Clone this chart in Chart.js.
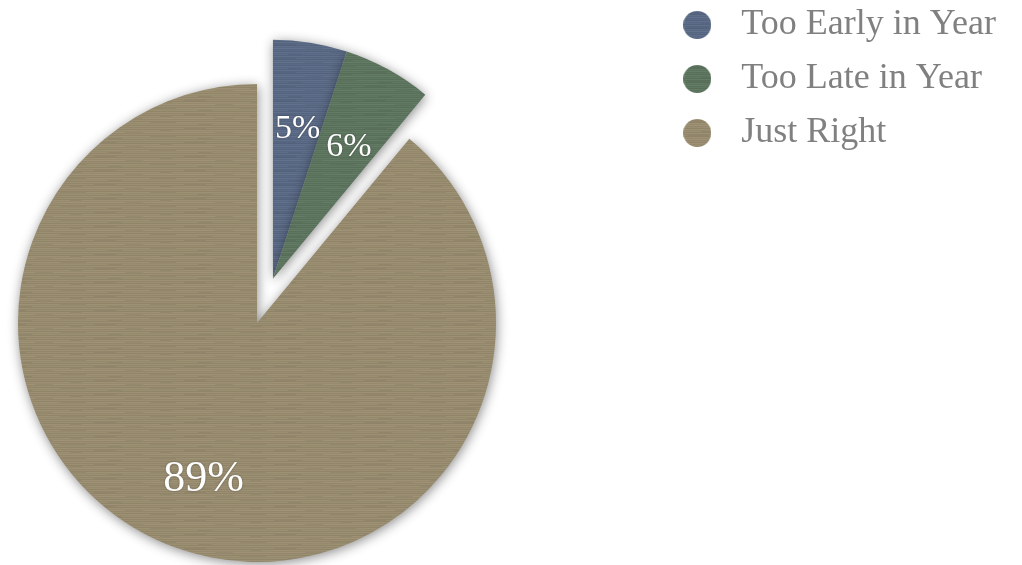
<!DOCTYPE html>
<html>
<head>
<meta charset="utf-8">
<script src="https://cdn.jsdelivr.net/npm/chart.js@4"></script>
<style>
  html, body { margin: 0; padding: 0; background: #fff; }
  #wrap { width: 1022px; height: 565px; position: relative; }
</style>
</head>
<body>
<div id="wrap"><canvas id="pie-canvas"></canvas></div>
<script>
// data
const categories = ['Too Early in Year', 'Too Late in Year', 'Just Right'];
const shares = [5, 6, 89];
const sliceColors = ['#5a6a86', '#5d765f', '#9a8d70'];
const explodedSlices = [0, 1];

// layout of the pie (center / radius in px) and look
const PIE_CX = 257, PIE_CY = 323, PIE_R = 239;
const EXPLODE_OFFSET = 47;
const LABEL_POS = 0.66;
const labelSizes = [34, 34, 44];
const LEGEND_DOT = 28;
const SERIF = "'Liberation Serif', 'DejaVu Serif', serif";

// paper-ish striped texture
function paperTexture(hex) {
    const c = document.createElement('canvas');
    c.width = 90; c.height = 14;
    const g = c.getContext('2d');
    g.fillStyle = hex;
    g.fillRect(0, 0, c.width, c.height);
    const shades = [0.04, -0.05, 0.02, -0.07, 0.03, -0.02, 0.05, -0.04, 0.01, -0.06, 0.04, -0.02, 0.02, -0.06];
    shades.forEach((s, row) => {
        g.fillStyle = s > 0 ? 'rgba(255,255,255,' + s + ')' : 'rgba(0,0,0,' + (-s) + ')';
        g.fillRect(0, row, c.width, 1);
    });
    // a few short darker fibres
    g.fillStyle = 'rgba(0,0,0,0.06)';
    [[4, 2, 22], [35, 6, 18], [60, 10, 26], [18, 12, 14], [70, 4, 12]].forEach(f => g.fillRect(f[0], f[1], f[2], 1));
    return g.createPattern(c, 'repeat');
}

const textures = sliceColors.map(paperTexture);

// round textured dots for the legend
function legendDot(pattern) {
    const c = document.createElement('canvas');
    c.width = c.height = LEGEND_DOT;
    const g = c.getContext('2d');
    g.fillStyle = pattern;
    g.beginPath();
    g.arc(LEGEND_DOT / 2, LEGEND_DOT / 2, LEGEND_DOT / 2, 0, Math.PI * 2);
    g.fill();
    return c;
}
const legendDots = textures.map(legendDot);

const pieBox = {
    id: 'pieBox',
    afterLayout(chart) {
        const a = chart.chartArea;
        a.left = PIE_CX - PIE_R;
        a.right = PIE_CX + PIE_R;
        a.top = PIE_CY - PIE_R;
        a.bottom = PIE_CY + PIE_R;
        a.width = a.height = 2 * PIE_R;
    }
};

// pull the first slices out together, as one wedge
const explodeGroup = {
    id: 'explodeGroup',
    afterDatasetsUpdate(chart) {
        const arcs = chart.getDatasetMeta(0).data;
        const first = arcs[explodedSlices[0]];
        const last = arcs[explodedSlices[explodedSlices.length - 1]];
        const mid = (first.startAngle + last.endAngle) / 2;
        explodedSlices.forEach(i => {
            arcs[i].x += Math.cos(mid) * EXPLODE_OFFSET;
            arcs[i].y += Math.sin(mid) * EXPLODE_OFFSET;
        });
    }
};

const shadowAndLabels = {
    id: 'shadowAndLabels',
    beforeDatasetsDraw(chart) {
        const ctx = chart.ctx;
        ctx.save();
        ctx.shadowColor = 'rgba(0,0,0,0.45)';
        ctx.shadowBlur = 12;
        ctx.shadowOffsetX = 1;
        ctx.shadowOffsetY = 2;
    },
    afterDatasetsDraw(chart) {
        const ctx = chart.ctx;
        ctx.restore();
        ctx.save();
        ctx.fillStyle = '#ffffff';
        ctx.textAlign = 'center';
        ctx.textBaseline = 'middle';
        ctx.shadowColor = 'rgba(0,0,0,0.35)';
        ctx.shadowBlur = 2;
        chart.getDatasetMeta(0).data.forEach((arc, i) => {
            const mid = (arc.startAngle + arc.endAngle) / 2;
            const r = arc.outerRadius * LABEL_POS;
            const size = labelSizes[i];
            ctx.font = size + 'px ' + SERIF;
            ctx.fillText(shares[i] + '%', arc.x + Math.cos(mid) * r, arc.y + Math.sin(mid) * r + size * 0.19);
        });
        ctx.restore();
    }
};

const ctx = document.getElementById('pie-canvas').getContext('2d');
const pieChart = new Chart(ctx, {
    type: 'pie',
    data: {
        labels: categories,
        datasets: [{
            data: shares,
            backgroundColor: textures,
            borderWidth: 0,
            clip: false
        }]
    },
    options: {
        responsive: true,
        maintainAspectRatio: false,
        animation: false,
        events: [],
        layout: { padding: { top: -11, right: 16 } },
        plugins: {
            tooltip: { enabled: false },
            legend: {
                position: 'right',
                align: 'start',
                labels: {
                    usePointStyle: true,
                    pointStyleWidth: 52,
                    padding: 18,
                    color: '#808080',
                    font: { family: SERIF, size: 36 },
                    generateLabels: (chart) =>
                        Chart.overrides.pie.plugins.legend.labels.generateLabels(chart)
                            .map((item, i) => Object.assign(item, { pointStyle: legendDots[i] }))
                }
            }
        }
    },
    plugins: [pieBox, explodeGroup, shadowAndLabels]
});
</script>
</body>
</html>
